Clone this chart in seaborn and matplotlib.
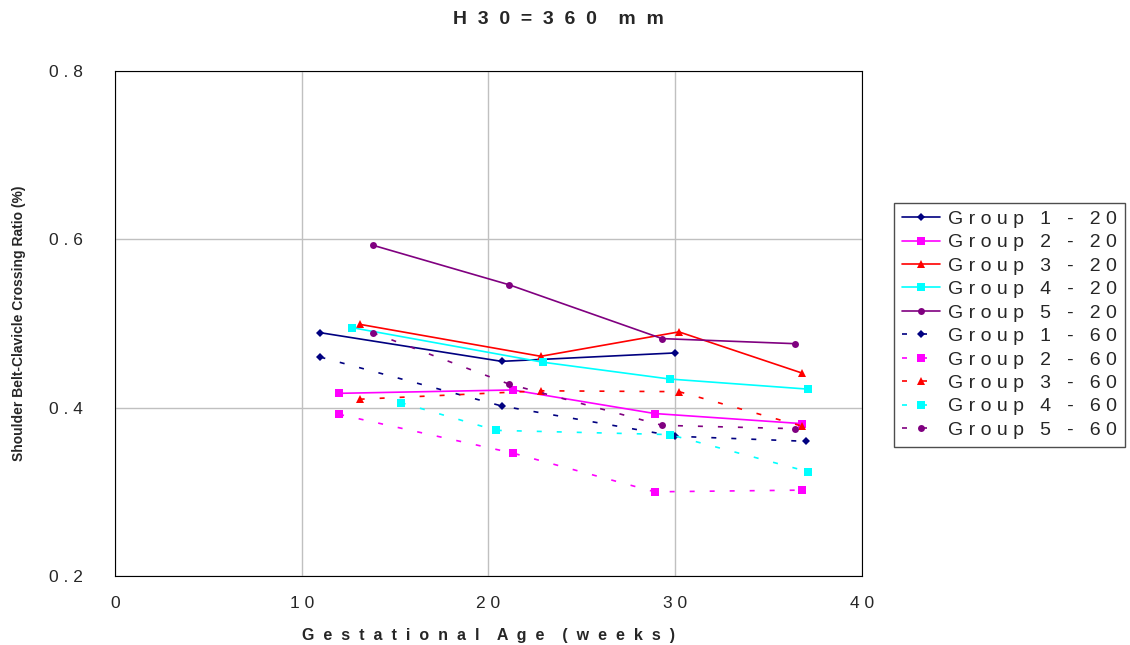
import pandas as pd
import matplotlib.pyplot as plt
import seaborn as sns

# Weeks and ratios per group
g1_x = [11.0, 20.7, 30.0]
g1_20 = [0.489, 0.455, 0.465]
g1_x60 = [11.0, 20.7, 30.0, 37.0]
g1_60 = [0.460, 0.402, 0.366, 0.360]

g2_x = [12.0, 21.3, 28.9, 36.8]
g2_20 = [0.417, 0.421, 0.393, 0.381]
g2_60 = [0.392, 0.346, 0.300, 0.302]

g3_x = [13.1, 22.8, 30.2, 36.8]
g3_20 = [0.499, 0.461, 0.490, 0.441]
g3_60 = [0.410, 0.420, 0.419, 0.378]

g4_x = [12.7, 22.9, 29.7, 37.1]
g4_20 = [0.495, 0.454, 0.434, 0.422]
g4_x60 = [15.3, 20.4, 29.7, 37.1]
g4_60 = [0.406, 0.373, 0.368, 0.324]

g5_x = [13.8, 21.1, 29.3, 36.4]
g5_20 = [0.593, 0.546, 0.482, 0.476]
g5_60 = [0.489, 0.428, 0.379, 0.375]

x_ticks = [0, 10, 20, 30, 40]
y_ticks = [0.2, 0.4, 0.6, 0.8]

colors = ['#000080', '#ff00ff', '#ff0000', '#00ffff', '#800080']
markers = ['D', 's', '^', 's', 'o']
msizes = [4, 6, 6, 6, 5]

series_20 = [(g1_x, g1_20), (g2_x, g2_20), (g3_x, g3_20), (g4_x, g4_20), (g5_x, g5_20)]
series_60 = [(g1_x60, g1_60), (g2_x, g2_60), (g3_x, g3_60), (g4_x60, g4_60), (g5_x, g5_60)]


def spaced(s, gap=' '):
    # old Excel style letter spacing
    return gap.join(s)


sns.set_style('white')
plt.rcParams['font.family'] = ['Liberation Sans', 'DejaVu Sans']

fig = plt.figure(figsize=(11.3, 6.45), dpi=100)
ax = fig.add_axes([0.1018, 0.107, 0.6610, 0.783])

for i, (x, y) in enumerate(series_20):
    sns.lineplot(x=x, y=y, ax=ax, color=colors[i], marker=markers[i],
                 markersize=msizes[i], markeredgewidth=0, linewidth=1.2,
                 label=spaced('Group %d - 20' % (i + 1)))
for i, (x, y) in enumerate(series_60):
    sns.lineplot(x=x, y=y, ax=ax, color=colors[i], marker=markers[i],
                 markersize=msizes[i], markeredgewidth=0, linewidth=1.2,
                 linestyle=(0, (3, 9)),
                 label=spaced('Group %d - 60' % (i + 1)))

ax.set_xlim(0, 40)
ax.set_ylim(0.2, 0.8)
ax.set_xticks(x_ticks)
ax.set_yticks(y_ticks)
ax.set_xticklabels([spaced(str(v)) for v in x_ticks], fontsize=12.5)
ax.set_yticklabels([spaced('%.1f' % v) for v in y_ticks], fontsize=12.5)
ax.grid(True, color='#c0c0c0', linewidth=1)
for sp in ax.spines.values():
    sp.set_color('black')
    sp.set_linewidth(0.8)
ax.tick_params(axis='x', direction='out', length=5.5, color='black', width=0.8, pad=9)
ax.tick_params(axis='y', direction='out', length=7, color='black', width=0.8, pad=16)

ax.set_xlabel(spaced('Gestational', '  ') + '    ' + spaced('Age', '  ') + '    ' + spaced('(weeks)', '  '),
              fontsize=11.5, fontweight='bold', labelpad=12)
ax.set_ylabel('Shoulder Belt-Clavicle Crossing Ratio (%)', fontsize=10, fontweight='bold')
ax.yaxis.set_label_coords(-0.119, 0.5)
fig.text(0.494, 0.969, spaced('H30=360', '  ') + '    ' + spaced('mm', '  '),
         ha='center', va='center', fontsize=14, fontweight='bold')

leg = ax.legend(loc='upper left', bbox_to_anchor=(0.791, 0.686), bbox_transform=fig.transFigure,
                fontsize=14, frameon=True, fancybox=False, edgecolor='#202020',
                handlelength=2.0, labelspacing=0.3, borderpad=0.4, handletextpad=0.4,
                borderaxespad=0)
leg.get_frame().set_linewidth(1)

fig.savefig('out.png', dpi=100)
